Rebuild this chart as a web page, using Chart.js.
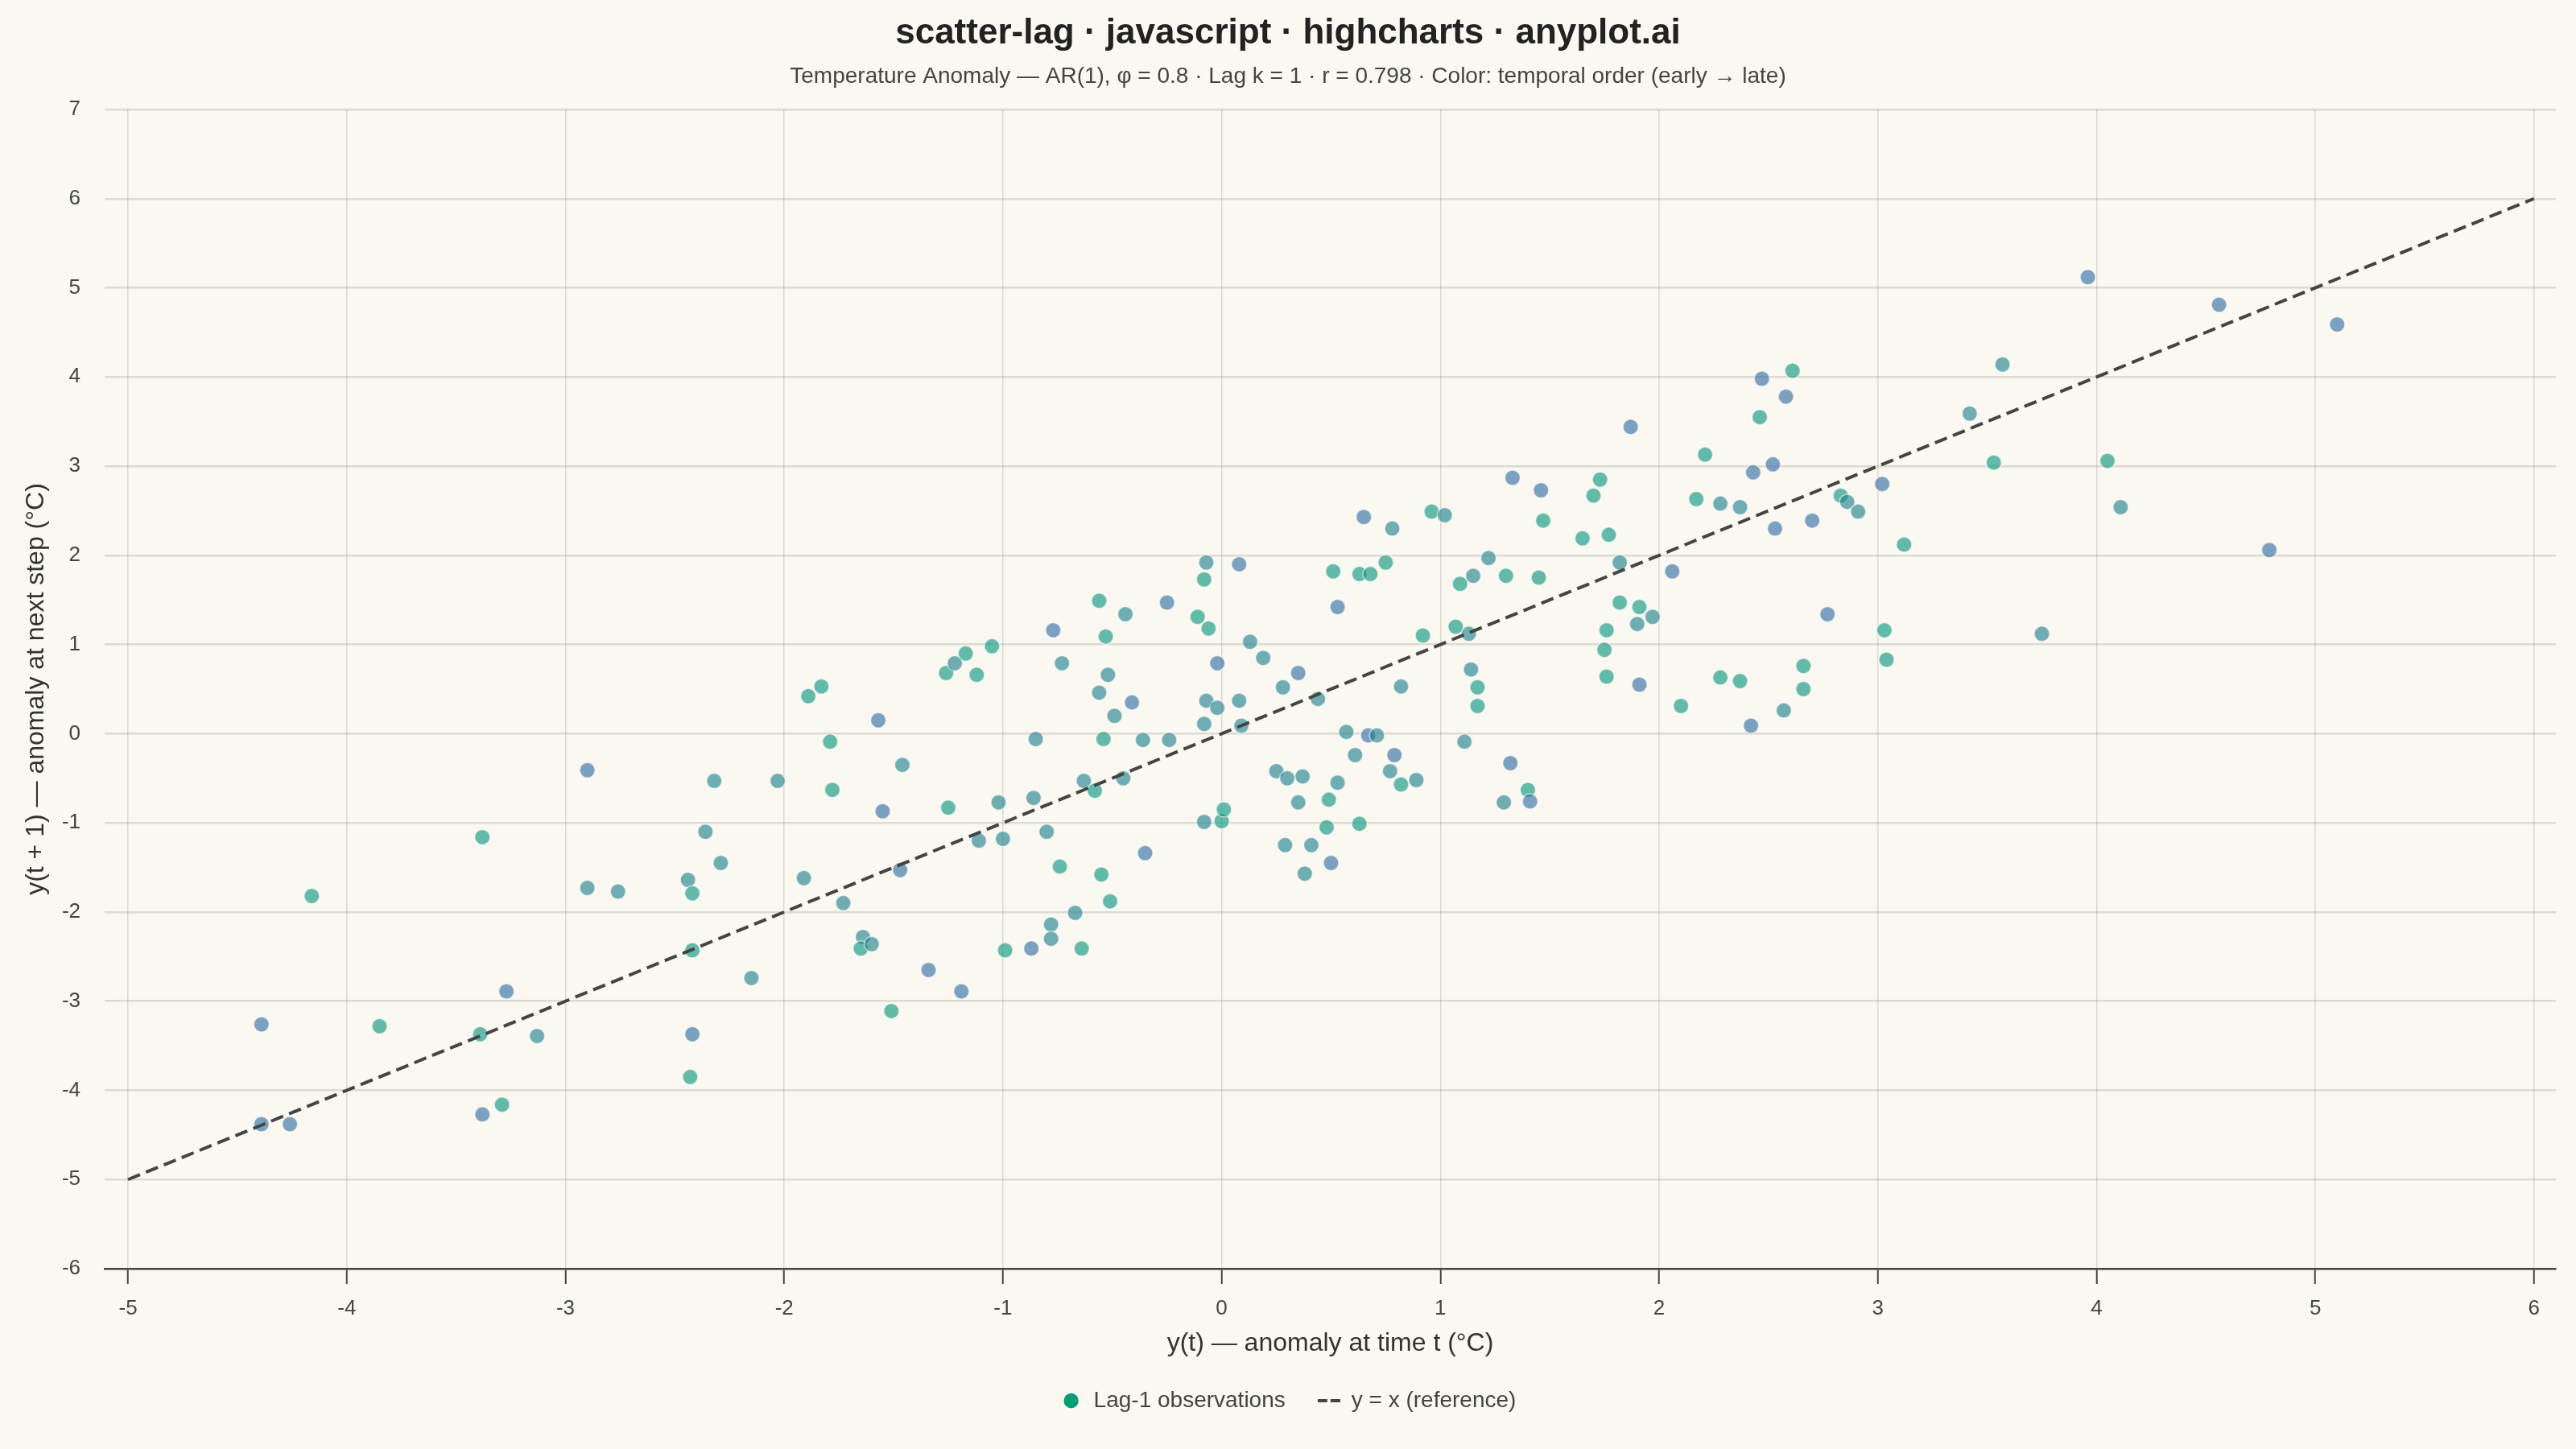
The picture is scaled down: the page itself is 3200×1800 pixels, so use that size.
<!DOCTYPE html>
<html lang="en">
<head>
  <meta charset="UTF-8">
  <title>scatter-lag</title>
  <script src="https://cdn.jsdelivr.net/npm/chart.js"></script>
  <style>
    html, body {
      margin: 0;
      padding: 0;
      background: #FAF8F1;
    }
    canvas {
      display: block;
    }
  </style>
</head>
<body>
  <canvas id="lagChart" width="3200" height="1800"></canvas>

  <script>
    // y(t) and y(t + 1)
    const lagX = [
      -4.39, -4.39, -4.26, -4.16, -3.85, -3.39, -3.38, -3.38, -3.29, -3.27, -3.13,
      -2.90, -2.90, -2.76, -2.44, -2.42, -2.42, -2.42, -2.43, -2.36, -2.32, -2.29, -2.15, -2.03, -1.91,
      -1.89, -1.83, -1.79, -1.78, -1.73, -1.64, -1.65, -1.60, -1.57, -1.55, -1.51, -1.47, -1.46, -1.34,
      -1.26, -1.25, -1.22, -1.17, -1.19, -1.12, -1.11, -1.05, -1.02, -1.00, -0.99,
      -0.87, -0.86, -0.85, -0.80, -0.78, -0.78, -0.77, -0.74, -0.73, -0.67, -0.64, -0.63, -0.58,
      -0.56, -0.56, -0.55, -0.54, -0.53, -0.52, -0.51, -0.49, -0.45, -0.44, -0.41, -0.36, -0.35,
      -0.25, -0.24, -0.11, -0.08, -0.08, -0.07, -0.08, -0.07, -0.06, -0.02, -0.02, 0.00, 0.01,
      0.08, 0.08, 0.09, 0.13, 0.19, 0.25, 0.28, 0.30, 0.29, 0.35, 0.35, 0.37, 0.38, 0.41, 0.44,
      0.49, 0.48, 0.50, 0.51, 0.53, 0.53, 0.57, 0.61, 0.63, 0.63, 0.65, 0.67, 0.68, 0.71,
      0.75, 0.77, 0.78, 0.79, 0.82, 0.82, 0.89, 0.92, 0.96, 1.02,
      1.07, 1.09, 1.11, 1.13, 1.14, 1.15, 1.17, 1.17, 1.22, 1.29, 1.30, 1.33, 1.32, 1.40, 1.41, 1.45, 1.46, 1.47,
      1.65, 1.70, 1.73, 1.75, 1.76, 1.76, 1.77, 1.82, 1.82, 1.87, 1.90, 1.91, 1.91, 1.97,
      2.06, 2.10, 2.17, 2.21, 2.28, 2.28, 2.37, 2.37, 2.42, 2.43, 2.46, 2.47, 2.52, 2.53, 2.57, 2.58, 2.61, 2.66, 2.66, 2.70, 2.77,
      2.83, 2.86, 2.91, 3.02, 3.03, 3.04, 3.12,
      3.42, 3.53, 3.57, 3.75, 3.96, 4.05, 4.11, 4.56, 4.79, 5.10
    ];
    const lagY = [
      -3.26, -4.38, -4.38, -1.82, -3.28, -3.37, -1.16, -4.27, -4.16, -2.89, -3.39,
      -0.41, -1.73, -1.77, -1.64, -1.79, -2.43, -3.37, -3.85, -1.10, -0.53, -1.45, -2.74, -0.53, -1.62,
      0.42, 0.53, -0.09, -0.63, -1.90, -2.28, -2.41, -2.36, 0.15, -0.87, -3.11, -1.53, -0.35, -2.65,
      0.68, -0.83, 0.79, 0.90, -2.89, 0.66, -1.20, 0.98, -0.77, -1.18, -2.43,
      -2.41, -0.72, -0.06, -1.10, -2.14, -2.30, 1.16, -1.49, 0.79, -2.01, -2.41, -0.53, -0.64,
      1.49, 0.46, -1.58, -0.06, 1.09, 0.66, -1.88, 0.20, -0.50, 1.34, 0.35, -0.07, -1.34,
      1.47, -0.07, 1.31, 0.11, -0.99, 0.37, 1.73, 1.92, 1.18, 0.79, 0.29, -0.98, -0.85,
      1.90, 0.37, 0.09, 1.03, 0.85, -0.42, 0.52, -0.50, -1.25, 0.68, -0.77, -0.48, -1.57, -1.25, 0.39,
      -0.74, -1.05, -1.45, 1.82, 1.42, -0.55, 0.02, -0.24, 1.79, -1.01, 2.43, -0.02, 1.79, -0.02,
      1.92, -0.42, 2.30, -0.24, -0.57, 0.53, -0.52, 1.10, 2.49, 2.45,
      1.20, 1.68, -0.09, 1.12, 0.72, 1.77, 0.52, 0.31, 1.97, -0.77, 1.77, 2.87, -0.33, -0.63, -0.76, 1.75, 2.73, 2.39,
      2.19, 2.67, 2.85, 0.94, 0.64, 1.16, 2.23, 1.92, 1.47, 3.44, 1.23, 0.55, 1.42, 1.31,
      1.82, 0.31, 2.63, 3.13, 2.58, 0.63, 2.54, 0.59, 0.09, 2.93, 3.55, 3.98, 3.02, 2.30, 0.26, 3.78, 4.07, 0.76, 0.50, 2.39, 1.34,
      2.67, 2.60, 2.49, 2.80, 1.16, 0.83, 2.12,
      3.59, 3.04, 4.14, 1.12, 5.12, 3.06, 2.54, 4.81, 2.06, 4.59
    ];
    // position in time (0 = early, 1 = late), judged from each dot's colour
    const timeShade = [
      0.85, 0.85, 0.85, 0.15, 0.15, 0.15, 0.15, 0.85, 0.15, 0.85, 0.5,
      0.85, 0.5, 0.5, 0.5, 0.15, 0.15, 0.85, 0.15, 0.5, 0.5, 0.5, 0.5, 0.5, 0.5,
      0.15, 0.15, 0.15, 0.15, 0.5, 0.5, 0.15, 0.5, 0.85, 0.85, 0.15, 0.85, 0.5, 0.85,
      0.15, 0.15, 0.5, 0.15, 0.85, 0.15, 0.5, 0.15, 0.5, 0.5, 0.15,
      0.85, 0.5, 0.5, 0.5, 0.5, 0.5, 0.85, 0.15, 0.5, 0.5, 0.15, 0.5, 0.15,
      0.15, 0.5, 0.15, 0.15, 0.15, 0.5, 0.15, 0.5, 0.5, 0.5, 0.85, 0.5, 0.85,
      0.85, 0.5, 0.15, 0.5, 0.5, 0.5, 0.15, 0.5, 0.15, 0.85, 0.5, 0.15, 0.15,
      0.85, 0.5, 0.5, 0.5, 0.5, 0.5, 0.5, 0.5, 0.5, 0.85, 0.5, 0.5, 0.5, 0.5, 0.5,
      0.15, 0.15, 0.85, 0.15, 0.85, 0.5, 0.5, 0.5, 0.15, 0.15, 0.85, 0.85, 0.15, 0.5,
      0.15, 0.5, 0.5, 0.85, 0.15, 0.5, 0.5, 0.15, 0.15, 0.5,
      0.15, 0.15, 0.5, 0.5, 0.5, 0.5, 0.15, 0.15, 0.5, 0.5, 0.15, 0.85, 0.85, 0.15, 0.85, 0.15, 0.85, 0.15,
      0.15, 0.15, 0.15, 0.15, 0.15, 0.15, 0.15, 0.5, 0.15, 0.85, 0.5, 0.85, 0.15, 0.5,
      0.85, 0.15, 0.15, 0.15, 0.5, 0.15, 0.5, 0.15, 0.85, 0.85, 0.15, 0.85, 0.85, 0.85, 0.5, 0.85, 0.15, 0.15, 0.15, 0.85, 0.85,
      0.15, 0.5, 0.5, 0.85, 0.15, 0.15, 0.15,
      0.5, 0.15, 0.5, 0.5, 0.85, 0.15, 0.5, 0.85, 0.85, 0.85
    ];
    // y = x reference line end points
    const refX = [-5, 6];
    const refY = [-5, 6];
    const xTicks = [-5, -4, -3, -2, -1, 0, 1, 2, 3, 4, 5, 6];

    const early = [0, 158, 115];
    const late = [55, 98, 167];

    function shadeColor(t, alpha) {
      const c = early.map((e, k) => Math.round(e + (late[k] - e) * t));
      return `rgba(${c[0]}, ${c[1]}, ${c[2]}, ${alpha})`;
    }

    // small dashed swatch for the reference line in the legend
    const dashIcon = document.createElement('canvas');
    dashIcon.width = 28;
    dashIcon.height = 6;
    const dctx = dashIcon.getContext('2d');
    dctx.fillStyle = '#444';
    dctx.fillRect(0, 1, 12, 4);
    dctx.fillRect(16, 1, 12, 4);

    Chart.defaults.font.family = "'Liberation Sans', Arial, Helvetica, sans-serif";
    Chart.defaults.color = '#444';

    const ctx = document.getElementById('lagChart').getContext('2d');

    new Chart(ctx, {
      type: 'scatter',
      data: {
        datasets: [
          {
            label: 'Lag-1 observations',
            data: lagX.map((x, i) => ({ x: x, y: lagY[i] })),
            backgroundColor: (c) => shadeColor(timeShade[c.dataIndex] ?? 0, 0.62),
            borderColor: 'rgba(255, 255, 255, 0.55)',
            borderWidth: 1.5,
            pointRadius: 9.5,
            pointHoverRadius: 9.5,
            order: 1
          },
          {
            type: 'line',
            label: 'y = x (reference)',
            data: refX.map((x, i) => ({ x: x, y: refY[i] })),
            borderColor: '#444',
            borderWidth: 4,
            borderDash: [16, 8],
            pointRadius: 0,
            fill: false,
            order: 0
          }
        ]
      },
      options: {
        responsive: false,
        devicePixelRatio: 1,
        animation: false,
        layout: {
          // symmetric sides so titles and legend centre on the page
          padding: { left: 25, right: 25, top: 0, bottom: 36 }
        },
        plugins: {
          title: {
            display: true,
            text: 'scatter-lag · javascript · highcharts · anyplot.ai',
            color: '#222',
            font: { size: 44, weight: 'bold' },
            padding: { top: 15, bottom: 0 }
          },
          subtitle: {
            display: true,
            text: 'Temperature Anomaly — AR(1), φ = 0.8 · Lag k = 1 · r = 0.798 · Color: temporal order (early → late)',
            color: '#444',
            font: { size: 28 },
            padding: { top: 11, bottom: 23.6 }
          },
          legend: {
            position: 'bottom',
            labels: {
              usePointStyle: true,
              boxHeight: 13,
              padding: 40,
              color: '#444',
              font: { size: 28 },
              sort: (a, b) => a.datasetIndex - b.datasetIndex,
              generateLabels: (chart) => chart.data.datasets.map((ds, i) => ({
                text: ds.label,
                datasetIndex: i,
                fillStyle: '#009E73',
                strokeStyle: '#009E73',
                lineWidth: 0,
                pointStyle: i === 0 ? 'circle' : dashIcon,
                fontColor: '#444'
              }))
            }
          },
          tooltip: { enabled: false }
        },
        scales: {
          x: {
            type: 'linear',
            min: -5.107,
            max: 6.1,
            afterBuildTicks: (axis) => {
              axis.ticks = xTicks.map((v) => ({ value: v }));
            },
            afterFit: (scale) => {
              scale.height = 110;
            },
            ticks: {
              color: '#444',
              font: { size: 26 },
              padding: 15,
              maxRotation: 0
            },
            grid: {
              color: 'rgba(60, 55, 40, 0.16)',
              lineWidth: 1.5,
              drawTicks: true,
              tickLength: 19,
              tickColor: '#444',
              tickWidth: 2
            },
            border: {
              display: true,
              color: '#444',
              width: 2.5
            },
            title: {
              display: true,
              text: 'y(t) — anomaly at time t (°C)',
              color: '#333',
              font: { size: 32 },
              padding: { top: 0, bottom: -2 }
            }
          },
          y: {
            type: 'linear',
            min: -6,
            max: 7,
            afterFit: (scale) => {
              scale.width = 105;
            },
            ticks: {
              stepSize: 1,
              color: '#444',
              font: { size: 26 },
              padding: 30
            },
            grid: {
              color: 'rgba(60, 55, 30, 0.15)',
              lineWidth: 2.5,
              drawTicks: false
            },
            border: {
              display: false
            },
            title: {
              display: true,
              text: 'y(t + 1) — anomaly at next step (°C)',
              color: '#333',
              font: { size: 32 },
              padding: { top: 1, bottom: 0 }
            }
          }
        }
      }
    });
  </script>
</body>
</html>
